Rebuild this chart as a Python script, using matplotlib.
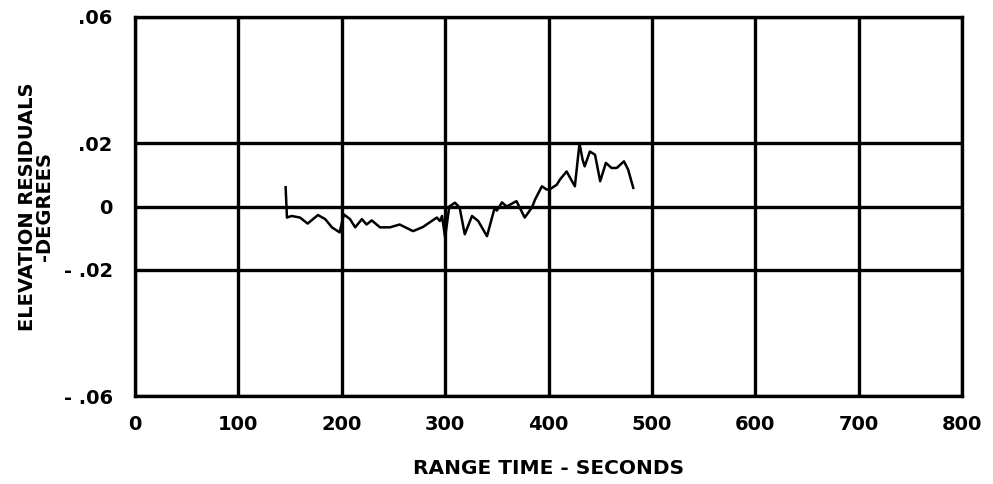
import matplotlib
matplotlib.use("Agg")
import matplotlib.pyplot as plt

# Data
time_s = [145.7, 147, 151.5, 159.6, 167, 177, 184, 190.5, 198, 202, 208, 213, 219.5, 224, 229,
          237, 246.6, 256, 269, 278.5, 287, 292, 295, 297, 300, 304, 309.5, 314, 319, 326,
          332, 340.5, 348, 350, 355, 359.5, 369, 377, 384, 387, 393.6, 398, 401, 408, 411,
          417.5, 425.5, 430, 433, 435, 440, 445, 450, 455.5, 461, 466, 473, 477, 482]
residual = [0.0061, -0.0035, -0.0030, -0.0035, -0.0054, -0.0027, -0.0040, -0.0066, -0.0082, -0.0025,
            -0.0040, -0.0066, -0.0040, -0.0057, -0.0044, -0.0066, -0.0066, -0.0057, -0.0078, -0.0065,
            -0.0046, -0.0035, -0.0046, -0.0030, -0.0098, 0.0000, 0.0012, -0.0003, -0.0088, -0.0030,
            -0.0046, -0.0094, -0.0003, -0.0013, 0.0013, 0.0000, 0.0017, -0.0035, -0.0003, 0.0022,
            0.0064, 0.0054, 0.0054, 0.0069, 0.0085, 0.0111, 0.0064, 0.0200, 0.0148, 0.0127,
            0.0174, 0.0164, 0.0080, 0.0138, 0.0122, 0.0122, 0.0143, 0.0117, 0.0059]

x_ticks = [0, 100, 200, 300, 400, 500, 600, 700, 800]
y_ticks = [-0.06, -0.02, 0, 0.02, 0.06]
y_tick_labels = ["- .06", "- .02", "0", ".02", ".06"]

FONT = 'DejaVu Sans'

fig = plt.figure(figsize=(9.93, 4.84), dpi=100)
ax = fig.add_axes([135/993, 1-396/484, (962-135)/993, (396-17)/484])

ax.plot(time_s, residual, color='black', lw=1.8, zorder=3)

ax.set_xlim(0, 800)
ax.set_ylim(-0.06, 0.06)
ax.set_xticks(x_ticks)
ax.set_xticklabels([str(v) for v in x_ticks], family=FONT, weight='bold', fontsize=14)
ax.set_yticks(y_ticks)
ax.set_yticklabels(y_tick_labels, family=FONT, weight='bold', fontsize=14)
ax.tick_params(axis='x', length=0, pad=14)
ax.tick_params(axis='y', length=0, pad=16)
ax.grid(True, color='black', lw=2.4, zorder=1)
for s in ax.spines.values():
    s.set_linewidth(2.4)

ax.set_xlabel("RANGE TIME - SECONDS", family=FONT, weight='bold', fontsize=14.5, labelpad=18)
ax.set_ylabel("ELEVATION RESIDUALS\n-DEGREES", family=FONT, weight='bold',
              fontsize=14, labelpad=7, linespacing=0.85)

fig.savefig("out.png", dpi=100)
